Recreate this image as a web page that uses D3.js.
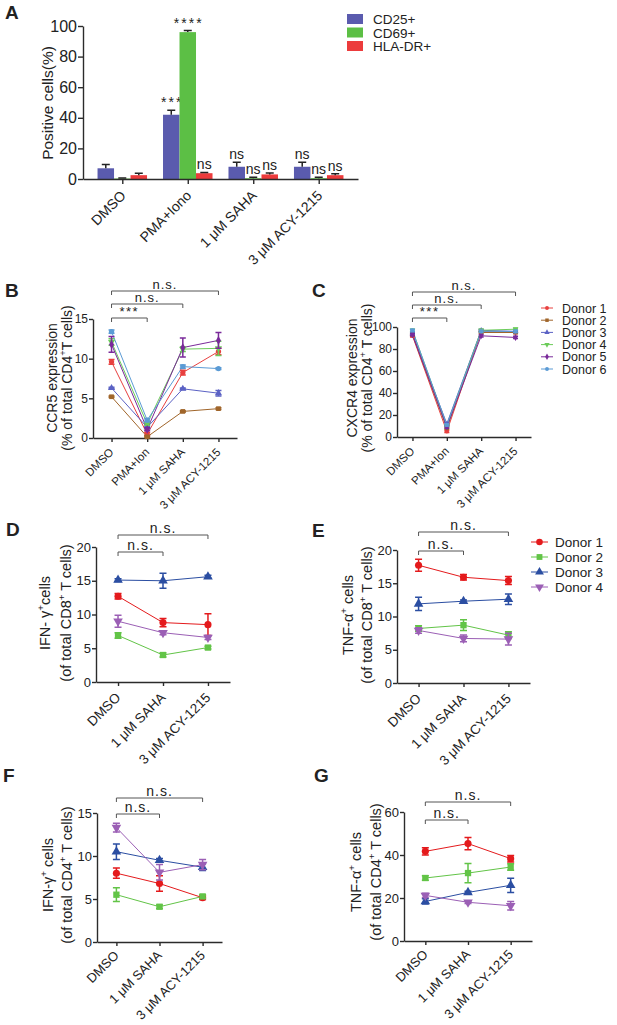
<!DOCTYPE html>
<html><head><meta charset="utf-8">
<script src="https://cdn.jsdelivr.net/npm/d3@7"></script>
<style>
body{margin:0;background:#fff}
svg{display:block}
text{font-family:Arial,"Liberation Sans",sans-serif;fill:#222}
</style>
</head><body>
<svg id="fig" width="617" height="1025"></svg>
<script>
// ---------- Panel A data ----------
const aCategories = ["DMSO", "PMA+Iono", "1 μM SAHA", "3 μM ACY-1215"];
const aSeries = ["CD25+", "CD69+", "HLA-DR+"];
const aCD25 = [7, 42, 8, 8];
const aCD25Err = [2.5, 3, 3, 3];
const aCD69 = [0.3, 96, 0.5, 0.5];
const aCD69Err = [0.3, 1, 0.6, 0.6];
const aHLA = [2.5, 3.8, 3, 2.5];
const aHLAErr = [1.2, 0.5, 1, 1];
const aSig = [["", "", ""], ["***", "****", "ns"], ["ns", "ns", "ns"], ["ns", "ns", "ns"]];
const aTicks = [0, 20, 40, 60, 80, 100];

// ---------- Panels B, C data ----------
const bcCategories = ["DMSO", "PMA+Ion", "1 μM SAHA", "3 μM ACY-1215"];
const donors6 = ["Donor 1", "Donor 2", "Donor 3", "Donor 4", "Donor 5", "Donor 6"];
const bD1 = [9.6, 0.5, 8.25, 10.9],  bD1Err = [0.3, 0.2, 0.3, 0.4];
const bD2 = [5.2, 0.15, 3.35, 3.7],  bD2Err = [0.1, 0.1, 0.1, 0.1];
const bD3 = [6.3, 1.35, 6.2, 5.65],  bD3Err = [0.1, 0.1, 0.1, 0.35];
const bD4 = [12.1, 1.8, 11.2, 11.3], bD4Err = [0.4, 0.2, 0.3, 0.9];
const bD5 = [11.8, 1.1, 11.4, 12.3], bD5Err = [1.0, 0.2, 1.2, 1.0];
const bD6 = [13.4, 2.25, 9.0, 8.75], bD6Err = [0.2, 0.2, 0.2, 0.1];
const bTicks = [0, 5, 10, 15];
const cD1 = [92, 5, 96, 95],   cD1Err = [1, 1, 1, 1];
const cD2 = [93, 8, 95, 95],   cD2Err = [1, 1, 1, 1];
const cD3 = [94, 12, 97, 96],  cD3Err = [1, 1, 1, 1];
const cD4 = [97, 10, 97, 98],  cD4Err = [1, 1, 1, 1];
const cD5 = [93, 9, 92, 90.5], cD5Err = [1, 1, 1, 1];
const cD6 = [97, 11, 96, 96],  cD6Err = [1, 1, 1, 1];
const cTicks = [0, 20, 40, 60, 80, 100];

// ---------- Panels D-G data ----------
const dgCategories = ["DMSO", "1 μM SAHA", "3 μM ACY-1215"];
const donors4 = ["Donor 1", "Donor 2", "Donor 3", "Donor 4"];
const dD1 = [12.7, 8.8, 8.5],  dD1Err = [0.4, 0.6, 1.6];
const dD2 = [6.9, 4.0, 5.1],   dD2Err = [0.4, 0.3, 0.2];
const dD3 = [15.1, 15.0, 15.6], dD3Err = [0.2, 1.1, 0.2];
const dD4 = [9.0, 7.3, 6.6],   dD4Err = [0.9, 0.3, 0.3];
const eD1 = [17.7, 15.9, 15.4], eD1Err = [0.9, 0.4, 0.6];
const eD2 = [8.2, 8.7, 7.2],   eD2Err = [0.4, 0.8, 0.5];
const eD3 = [11.9, 12.3, 12.6], eD3Err = [1.0, 0.2, 0.8];
const eD4 = [7.9, 6.7, 6.6],   eD4Err = [0.4, 0.5, 0.9];
const fD1 = [8.0, 6.8, 5.15],  fD1Err = [0.6, 0.9, 0.2];
const fD2 = [5.5, 4.1, 5.3],   fD2Err = [0.8, 0.2, 0.2];
const fD3 = [10.5, 9.5, 8.7],  fD3Err = [0.9, 0.2, 0.4];
const fD4 = [13.3, 8.1, 9.0],  fD4Err = [0.5, 0.9, 0.6];
const gD1 = [41.7, 45.3, 38.3], gD1Err = [1.7, 2.8, 1.5];
const gD2 = [29.3, 31.6, 34.4], gD2Err = [1.0, 4.5, 1.5];
const gD3 = [18.4, 22.6, 25.9], gD3Err = [1.2, 0.5, 3.3];
const gD4 = [21.2, 18.0, 16.4], gD4Err = [1.0, 0.5, 2.0];
const dTicks = [0, 5, 10, 15, 20];
const eTicks = [0, 5, 10, 15, 20];
const fTicks = [0, 5, 10, 15];
const gTicks = [0, 20, 40, 60];

// ---------- styles ----------
const FONT = 'Arial, "Liberation Sans", sans-serif';
const AX = "#2b2b2b";
const aColors = ["#5a5bae", "#5cbf45", "#ec3b3c"];
const bcColors = ["#e8403f", "#a0652a", "#5b62c4", "#6ccc5a", "#7a2a9a", "#5b9bd5"];
const bcSymbols = [d3.symbolCircle, d3.symbolSquare, d3.symbolTriangle, "tri-down", d3.symbolDiamond, d3.symbolCircle];
const dgColors = ["#e41a1c", "#62c447", "#2b4ea2", "#9b5fb5"];
const dgSymbols = [d3.symbolCircle, d3.symbolSquare, d3.symbolTriangle, "tri-down"];

const svg = d3.select("#fig");

function styleAxis(g, fs) {
  g.attr("font-family", FONT).attr("font-size", fs);
  g.selectAll("path.domain").attr("stroke", AX).attr("stroke-width", 1.4);
  g.selectAll(".tick line").attr("stroke", AX).attr("stroke-width", 1.4);
  g.selectAll(".tick text").attr("fill", "#222");
}

function richText(g, x, y, str, fs, rot, anchor) {
  const t = g.append("text")
    .attr("transform", `translate(${x},${y}) rotate(${rot})`)
    .attr("text-anchor", anchor || "middle")
    .style("font-size", fs + "px");
  const parts = str.split("^");
  let up = false;
  parts.forEach((p, i) => {
    if (!p.length) { return; }
    const sup = i % 2 === 1;
    const ts = t.append("tspan").text(p);
    if (sup) {
      ts.style("font-size", (fs * 0.68) + "px").attr("dy", -fs * 0.42);
      up = true;
    } else {
      ts.style("font-size", fs + "px");
      if (up) { ts.attr("dy", fs * 0.42); up = false; }
    }
  });
  return t;
}

function symPath(type, size) {
  if (type === "tri-down") return d3.symbol().type(d3.symbolTriangle).size(size)();
  return d3.symbol().type(type).size(size)();
}
function symRot(type) { return type === "tri-down" ? " rotate(180)" : ""; }

function letter(txt, x, y) {
  svg.append("text").attr("x", x).attr("y", y).style("font-size", "19px")
    .style("font-weight", "bold").attr("fill", "#111").text(txt);
}

function bracket(g, x0, x1, y, label, fs, ls) {
  g.append("path").attr("d", `M${x0},${y + 4}V${y}H${x1}V${y + 4}`)
    .attr("fill", "none").attr("stroke", "#555").attr("stroke-width", 1);
  g.append("text").attr("x", (x0 + x1) / 2).attr("y", y - 2.5)
    .attr("text-anchor", "middle").style("font-size", fs + "px")
    .style("letter-spacing", ls + "px").attr("fill", "#333").text(label);
}

// ---------- Panel A ----------
(function () {
  const g = svg.append("g");
  const x = d3.scalePoint().domain(aCategories).range([83, 358]).padding(0.6);
  const y = d3.scaleLinear().domain([0, 100]).range([179, 26]);
  const inner = d3.scaleBand().domain(aSeries).range([-24.75, 24.75]);
  const vals = [aCD25, aCD69, aHLA];
  const errs = [aCD25Err, aCD69Err, aHLAErr];

  aSeries.forEach((s, k) => {
    aCategories.forEach((c, i) => {
      const v = vals[k][i], e = errs[k][i];
      const bx = x(c) + inner(s), bw = inner.bandwidth();
      g.append("rect").attr("x", bx).attr("width", bw)
        .attr("y", y(v)).attr("height", y(0) - y(v)).attr("fill", aColors[k]);
      const cx = bx + bw / 2;
      g.append("path").attr("d", `M${cx},${y(v)}V${y(v + e)}M${cx - 4},${y(v + e)}H${cx + 4}`)
        .attr("stroke", "#222").attr("stroke-width", 1.5).attr("fill", "none");
      const lab = aSig[i][k];
      if (lab) {
        g.append("text").attr("x", cx + (lab[0] === "*" ? 1 : 0)).attr("y", y(v + e) - 3)
          .attr("text-anchor", "middle").style("font-size", "14px")
          .style("letter-spacing", lab[0] === "*" ? "2px" : "0px")
          .attr("fill", "#333").text(lab);
      }
    });
  });

  const gy = g.append("g").attr("transform", "translate(83,0)")
    .call(d3.axisLeft(y).tickValues(aTicks).tickSize(5).tickPadding(1).tickSizeOuter(0));
  styleAxis(gy, 16);
  const gx = g.append("g").attr("transform", "translate(0,179)")
    .call(d3.axisBottom(x).tickSize(5).tickSizeOuter(0).tickFormat(""));
  styleAxis(gx, 14);
  aCategories.forEach(c => {
    g.append("text").attr("transform", `translate(${x(c) + 1},${179 + 14}) rotate(-45)`)
      .attr("text-anchor", "end").attr("dy", "0.35em").style("font-size", "14px").text(c);
  });
  richText(g, 53, 103, "Positive cells(%)", 15.5, -90);

  // legend
  aSeries.forEach((s, k) => {
    g.append("rect").attr("x", 347).attr("y", 14 + 13.5 * k).attr("width", 16).attr("height", 10).attr("fill", aColors[k]);
    g.append("text").attr("x", 373).attr("y", 24 + 13.5 * k).style("font-size", "13.5px").text(s);
  });
  letter("A", 5, 19);
})();

// ---------- generic line panel ----------
function linePanel(p) {
  const g = svg.append("g");
  const x = d3.scalePoint().domain(p.cats).range(p.xr).padding(p.pad);
  const y = d3.scaleLinear().domain(p.yd).range(p.yr);

  const gy = g.append("g").attr("transform", `translate(${p.xr[0]},0)`)
    .call(d3.axisLeft(y).tickValues(p.yt).tickSize(4).tickPadding(1).tickSizeOuter(0));
  styleAxis(gy, p.tfs);
  const gx = g.append("g").attr("transform", `translate(0,${p.yr[0]})`)
    .call(d3.axisBottom(x).tickSize(4).tickSizeOuter(0).tickFormat(""));
  styleAxis(gx, p.tfs);
  p.cats.forEach(c => {
    g.append("text").attr("transform", `translate(${x(c) + p.lx},${p.yr[0] + p.ly}) rotate(-45)`)
      .attr("text-anchor", "end").attr("dy", "0.35em").style("font-size", p.xfs + "px").text(c);
  });

  const line = d3.line().x((d, i) => x(p.cats[i])).y(d => y(d));
  p.series.forEach((s, k) => {
    const col = p.colors[k];
    g.append("path").attr("d", line(s.v)).attr("fill", "none").attr("stroke", col).attr("stroke-width", 1);
  });
  p.series.forEach((s, k) => {
    const col = p.colors[k];
    s.v.forEach((v, i) => {
      const cx = x(p.cats[i]);
      const e = s.e[i];
      const hw = p.cap;
      g.append("path")
        .attr("d", `M${cx},${y(v - e)}V${y(v + e)}M${cx - hw},${y(v + e)}H${cx + hw}M${cx - hw},${y(v - e)}H${cx + hw}`)
        .attr("stroke", col).attr("stroke-width", 1.5).attr("fill", "none");
      g.append("path").attr("d", symPath(p.symbols[k], p.ss))
        .attr("transform", `translate(${cx},${y(v)})${symRot(p.symbols[k])}`)
        .attr("fill", col);
    });
  });

  p.brackets.forEach(b => bracket(g, x(p.cats[b.i0]), x(p.cats[b.i1]), b.y, b.t, p.bfs, b.t[0] === "*" ? 1.5 : 1));

  richText(g, p.lab1x, p.labcy, p.lab1, p.lfs, -90);
  richText(g, p.lab2x, p.labcy, p.lab2, p.lfs, -90);

  if (p.legend) {
    const L = p.legend;
    p.series.forEach((s, k) => {
      const yy = L.y0 + L.dy * k;
      g.append("line").attr("x1", L.mx - L.lw).attr("x2", L.mx + L.lw).attr("y1", yy).attr("y2", yy)
        .attr("stroke", p.colors[k]).attr("stroke-width", 1);
      g.append("path").attr("d", symPath(p.symbols[k], L.ss))
        .attr("transform", `translate(${L.mx},${yy})${symRot(p.symbols[k])}`).attr("fill", p.colors[k]);
      g.append("text").attr("x", L.tx).attr("y", yy + L.fs * 0.36).style("font-size", L.fs + "px").text(s.name);
    });
  }
}

function mk(names, vs, es) { return names.map((n, i) => ({ name: n, v: vs[i], e: es[i] })); }

// ---------- Panel B ----------
linePanel({
  cats: bcCategories, xr: [93, 237], pad: 0.52, yd: [0, 15], yr: [438, 319], yt: bTicks,
  tfs: 12, xfs: 11.5, lx: 0, ly: 12, ss: 22, cap: 3,
  colors: bcColors, symbols: bcSymbols,
  series: mk(donors6, [bD1, bD2, bD3, bD4, bD5, bD6], [bD1Err, bD2Err, bD3Err, bD4Err, bD5Err, bD6Err]),
  brackets: [{ i0: 0, i1: 1, y: 318, t: "***" }, { i0: 0, i1: 2, y: 304, t: "n.s." }, { i0: 0, i1: 3, y: 291, t: "n.s." }],
  bfs: 13,
  lab1: "CCR5 expression", lab2: "(% of total CD4^+^T cells)", lab1x: 57, lab2x: 72, labcy: 378, lfs: 14
});
letter("B", 5, 297);

// ---------- Panel C ----------
linePanel({
  cats: bcCategories, xr: [397, 531], pad: 0.45, yd: [0, 100], yr: [437, 327], yt: cTicks,
  tfs: 12, xfs: 11.5, lx: 0, ly: 12, ss: 14, cap: 2.5,
  colors: bcColors, symbols: bcSymbols,
  series: mk(donors6, [cD1, cD2, cD3, cD4, cD5, cD6], [cD1Err, cD2Err, cD3Err, cD4Err, cD5Err, cD6Err]),
  brackets: [{ i0: 0, i1: 1, y: 318, t: "***" }, { i0: 0, i1: 2, y: 305, t: "n.s." }, { i0: 0, i1: 3, y: 292, t: "n.s." }],
  bfs: 13,
  lab1: "CXCR4 expression", lab2: "(% of total CD4^+^ T cells)", lab1x: 357, lab2x: 372, labcy: 378, lfs: 14,
  legend: { mx: 547, lw: 6, tx: 562, y0: 308, dy: 12.2, fs: 12.5, ss: 12 }
});
letter("C", 312, 297);

// ---------- Panel D ----------
linePanel({
  cats: dgCategories, xr: [96, 230], pad: 0.49, yd: [0, 20], yr: [682, 547], yt: dTicks,
  tfs: 13, xfs: 13.5, lx: 0, ly: 13, ss: 40, cap: 3.5,
  colors: dgColors, symbols: dgSymbols,
  series: mk(donors4, [dD1, dD2, dD3, dD4], [dD1Err, dD2Err, dD3Err, dD4Err]),
  brackets: [{ i0: 0, i1: 1, y: 552, t: "n.s." }, { i0: 0, i1: 2, y: 535, t: "n.s." }],
  bfs: 14,
  lab1: "IFN- γ^+^cells", lab2: "(of total CD8^+^ T cells)", lab1x: 50, lab2x: 71, labcy: 613, lfs: 14.5
});
letter("D", 6, 536);

// ---------- Panel E ----------
linePanel({
  cats: dgCategories, xr: [397, 530], pad: 0.48, yd: [0, 20], yr: [683, 550], yt: eTicks,
  tfs: 13, xfs: 13.5, lx: 0, ly: 13, ss: 40, cap: 3.5,
  colors: dgColors, symbols: dgSymbols,
  series: mk(donors4, [eD1, eD2, eD3, eD4], [eD1Err, eD2Err, eD3Err, eD4Err]),
  brackets: [{ i0: 0, i1: 1, y: 551, t: "n.s." }, { i0: 0, i1: 2, y: 532, t: "n.s." }],
  bfs: 14,
  lab1: "TNF-α^+^ cells", lab2: "(of total CD8^+^ T cells)", lab1x: 353, lab2x: 372, labcy: 615, lfs: 14.5,
  legend: { mx: 539.5, lw: 8.5, tx: 555, y0: 542, dy: 15, fs: 13.5, ss: 34 }
});
letter("E", 312, 537);

// ---------- Panel F ----------
linePanel({
  cats: dgCategories, xr: [97, 222], pad: 0.45, yd: [0, 15], yr: [942, 813], yt: fTicks,
  tfs: 13, xfs: 13, lx: 0, ly: 11, ss: 40, cap: 3.5,
  colors: dgColors, symbols: dgSymbols,
  series: mk(donors4, [fD1, fD2, fD3, fD4], [fD1Err, fD2Err, fD3Err, fD4Err]),
  brackets: [{ i0: 0, i1: 1, y: 814, t: "n.s." }, { i0: 0, i1: 2, y: 798, t: "n.s." }],
  bfs: 14,
  lab1: "IFN-γ^+^ cells", lab2: "(of total CD4^+^ T cells)", lab1x: 53, lab2x: 72, labcy: 875, lfs: 14.5
});
letter("F", 3, 782);

// ---------- Panel G ----------
linePanel({
  cats: dgCategories, xr: [404, 532], pad: 0.5, yd: [0, 60], yr: [941, 812], yt: gTicks,
  tfs: 13, xfs: 13, lx: 0, ly: 11, ss: 40, cap: 3.5,
  colors: dgColors, symbols: dgSymbols,
  series: mk(donors4, [gD1, gD2, gD3, gD4], [gD1Err, gD2Err, gD3Err, gD4Err]),
  brackets: [{ i0: 0, i1: 1, y: 820, t: "n.s." }, { i0: 0, i1: 2, y: 802, t: "n.s." }],
  bfs: 14,
  lab1: "TNF-α^+^ cells", lab2: "(of total CD4^+^ T cells)", lab1x: 361, lab2x: 381, labcy: 872, lfs: 14.5
});
letter("G", 314, 782);
</script>
</body></html>
